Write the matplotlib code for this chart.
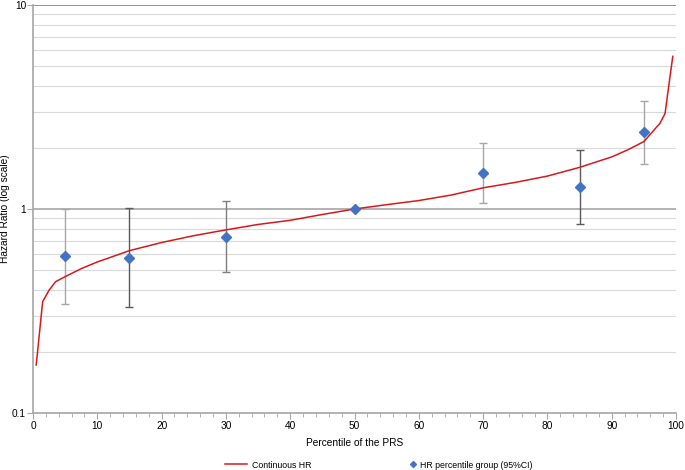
import matplotlib.pyplot as plt
from matplotlib.ticker import MultipleLocator, NullFormatter, FixedLocator

plt.rcParams['font.family'] = ['Liberation Sans', 'DejaVu Sans']

# continuous HR curve
pct = [0.5, 1.5, 2.5, 3.5, 5, 7.5, 10, 15, 20, 25, 30, 35, 40, 45, 50,
       55, 60, 65, 70, 75, 80, 85, 90, 92.5, 95, 97.5, 98.3, 99.0, 99.5]
hr = [0.172, 0.351, 0.40, 0.44, 0.466, 0.51, 0.55, 0.625, 0.685, 0.74, 0.79,
      0.84, 0.88, 0.94, 1.0, 1.05, 1.10, 1.17, 1.27, 1.35, 1.45, 1.60, 1.80,
      1.95, 2.14, 2.63, 2.94, 4.3, 5.6]

# percentile groups with 95% CI
grp_x = [5, 15, 30, 50, 70, 85, 95]
grp_hr = [0.588, 0.575, 0.729, 1.0, 1.50, 1.28, 2.38]
grp_lo = [0.342, 0.331, 0.491, 1.0, 1.066, 0.84, 1.66]
grp_hi = [1.0, 1.01, 1.094, 1.0, 2.10, 1.94, 3.38]
bar_col = ['#a6a6a6', '#595959', '#7f7f7f', '#7f7f7f', '#a6a6a6', '#595959', '#a6a6a6']

fig = plt.figure(figsize=(6.85, 4.70), dpi=100)
ax = fig.add_axes([33 / 685, 57 / 470, 643 / 685, 408 / 470])

ax.set_yscale('log')
ax.set_xlim(0, 100)
ax.set_ylim(0.1, 10)

# grid lines
for dec in [0.1, 1]:
    for m in range(2, 10):
        ax.axhline(dec * m, color='#d9d9d9', linewidth=0.8, zorder=0)
ax.axhline(1, color='#a6a6a6', linewidth=1.2, zorder=0)
ax.axhline(10, color='#7f7f7f', linewidth=1.2, zorder=0)

line, = ax.plot(pct, hr, color='#d7191c', linewidth=1.1, zorder=3, label='Continuous HR')

for i in range(len(grp_x)):
    ax.errorbar(grp_x[i], grp_hr[i],
                yerr=[[grp_hr[i] - grp_lo[i]], [grp_hi[i] - grp_hr[i]]],
                fmt='none', ecolor=bar_col[i], elinewidth=1.0, capsize=3, capthick=1.0, zorder=2)
pts, = ax.plot(grp_x, grp_hr, linestyle='none', marker='D', markersize=5.5,
               color='#4472c4', zorder=4, label='HR percentile group (95%CI)')

ax.xaxis.set_major_locator(MultipleLocator(10))
ax.xaxis.set_minor_locator(MultipleLocator(2))
ax.yaxis.set_major_locator(FixedLocator([0.1, 1, 10]))
ax.yaxis.set_major_formatter(plt.FixedFormatter(['0.1', '1', '10']))
ax.yaxis.set_minor_locator(FixedLocator([]))
ax.yaxis.set_minor_formatter(NullFormatter())

for s in ['top', 'right']:
    ax.spines[s].set_visible(False)
for s in ['left', 'bottom']:
    ax.spines[s].set_color('#a6a6a6')
    ax.spines[s].set_linewidth(1.2)

ax.tick_params(axis='both', which='both', colors='#a6a6a6', labelcolor='black', labelsize=7.3)
ax.tick_params(axis='x', which='major', length=4, pad=1.5)
ax.tick_params(axis='x', which='minor', length=3)
ax.tick_params(axis='y', which='major', length=4, pad=1)

ax.set_xlabel('Percentile of the PRS', fontsize=7.3)
ax.xaxis.set_label_coords(0.5, -0.062)
ax.set_ylabel('Hazard Ratio (log scale)', fontsize=7.3)
ax.yaxis.set_label_coords(-0.036, 0.5)

yleg = 1 - 465 / 470
fig.legend(handles=[line], loc='center left', frameon=False, fontsize=6.3,
           bbox_to_anchor=(225 / 685, yleg), borderpad=0, borderaxespad=0,
           handlelength=2.5, handletextpad=0.57)
fig.legend(handles=[pts], loc='center left', frameon=False, fontsize=6.3,
           bbox_to_anchor=(408.5 / 685, yleg), borderpad=0, borderaxespad=0,
           handlelength=1.0, handletextpad=0.3, markerscale=0.55)

plt.savefig('out.png')
